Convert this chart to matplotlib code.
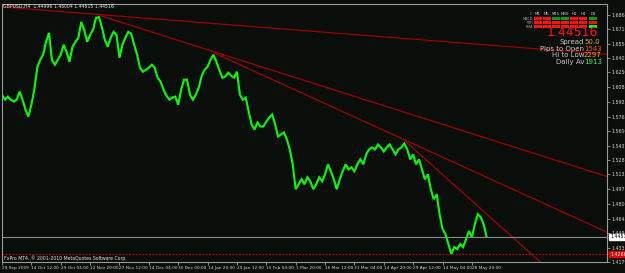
import matplotlib.pyplot as plt
from matplotlib.patches import Rectangle

# GBPUSD H4 closes, one value per 10th of a date-label step
closes = [
    1.6000, 1.5946, 1.5979, 1.5946, 1.5925, 1.5946, 1.6033, 1.5946, 1.5838, 1.5762,
    1.5892, 1.6055, 1.6293, 1.6380, 1.6434, 1.6575, 1.6673, 1.6380, 1.6326, 1.6380,
    1.6434, 1.6543, 1.6467, 1.6358, 1.6521, 1.6575, 1.6619, 1.6792, 1.6705, 1.6575,
    1.6651, 1.6705, 1.6835, 1.6846, 1.6738, 1.6597, 1.6521, 1.6619, 1.6684, 1.6651,
    1.6402, 1.6543, 1.6619, 1.6684, 1.6662, 1.6543, 1.6434, 1.6293, 1.6250, 1.6271,
    1.6293, 1.6326, 1.6293, 1.6185, 1.6141, 1.6055, 1.5990, 1.5946, 1.5968, 1.5979,
    1.5892, 1.6055, 1.6163, 1.6163, 1.6000, 1.5946, 1.6000, 1.6076, 1.6207, 1.6271,
    1.6304, 1.6380, 1.6434, 1.6358, 1.6271, 1.6185, 1.6196, 1.6239, 1.6207, 1.6185,
    1.6250, 1.6000, 1.5946, 1.5968, 1.5816, 1.5675, 1.5621, 1.5697, 1.5654, 1.5654,
    1.5708, 1.5751, 1.5784, 1.5675, 1.5545, 1.5567, 1.5589, 1.5513, 1.5404, 1.5242,
    1.4971, 1.5025, 1.5079, 1.5025, 1.5101, 1.5057, 1.4971, 1.5025, 1.5101, 1.5057,
    1.5133, 1.5242, 1.5166, 1.5079, 1.4971, 1.5079, 1.5166, 1.5242, 1.5187, 1.5209,
    1.5166, 1.5242, 1.5296, 1.5242, 1.5350, 1.5404, 1.5426, 1.5404, 1.5458, 1.5426,
    1.5382, 1.5426, 1.5458, 1.5404, 1.5350, 1.5404, 1.5426, 1.5469, 1.5404, 1.5296,
    1.5350, 1.5242, 1.5296, 1.5187, 1.5079, 1.5133, 1.4971, 1.4862, 1.4916, 1.4699,
    1.4537, 1.4483, 1.4374, 1.4266, 1.4342, 1.4320, 1.4374, 1.4342, 1.4428, 1.4515,
    1.4450, 1.4591, 1.4699, 1.4667, 1.4591, 1.4452,
]

date_labels = ["29 Sep 2009", "14 Oct 12:00", "29 Oct 04:00", "12 Nov 20:00",
               "27 Nov 12:00", "14 Dec 04:00", "30 Dec 00:00", "14 Jan 20:00",
               "29 Jan 12:00", "15 Feb 04:00", "1 Mar 20:00", "16 Mar 12:00",
               "31 Mar 04:00", "14 Apr 20:00", "29 Apr 12:00", "14 May 04:00",
               "28 May 20:00"]

price_ticks = [1.4179, 1.4331, 1.4494, 1.4645, 1.4808, 1.4971, 1.5133, 1.5285,
               1.5437, 1.5600, 1.5762, 1.5925, 1.6087, 1.6250, 1.6402, 1.6554,
               1.6716, 1.6868]
price_labels = ["1.41790", "1.43315", "1.44940", "1.46450", "1.48080", "1.49710",
                "1.51330", "1.52850", "1.54370", "1.56000", "1.57620", "1.59250",
                "1.60870", "1.62500", "1.64020", "1.65540", "1.67160", "1.68680"]

# trendlines: (start index, start price, index, price) - rays to the right
trendlines = [
    (0.0, 1.6955, 203.7, 1.6445),
    (32.7, 1.6868, 203.7, 1.5133),
    (72.1, 1.6456, 203.7, 1.4537),
    (137.4, 1.5491, 183.3, 1.4179),
]

bid = 1.44516
red_level = 1.4266

# info panel
tf_names = ["M1", "M5", "M15", "M30", "H1", "H4", "D1"]
row_names = ["MACD", "STR", "EMA"]
states = [
    [0, 0, 1, 1, 0, 0, 1],
    [0, 0, 0, 0, 0, 0, 0],
    [0, 0, 0, 0, 0, 0, 2],
]
stats = [("Spread", "50.0", "#e8a000"),
         ("Pips to Open", "1543", "#ff4a1a"),
         ("Hi to Low", "2297", "#ff9a00"),
         ("Daily Av", "1913", "#33ff33")]

BG = "#0a0e0a"
GRID = "#9a9a9a"

fig = plt.figure(figsize=(6.25, 2.73), dpi=100)
fig.patch.set_facecolor(BG)
ax = fig.add_axes([2 / 625, 11 / 273, 605 / 625, 258 / 273])
ax.set_facecolor(BG)

xmax = 206
ymin, ymax = 1.4179, 1.6987
ax.set_xlim(0, xmax)
ax.set_ylim(ymin, ymax)

ax.plot(range(len(closes)), closes, color="#00ff00", lw=1.5, solid_joinstyle="miter")

for x0, y0, x1, y1 in trendlines:
    slope = (y1 - y0) / (x1 - x0)
    ax.plot([x0, xmax], [y0, y0 + slope * (xmax - x0)], color="#9e0000", lw=0.9)

ax.axhline(bid, color="#8a8a8a", lw=0.8)
ax.axhline(red_level, color="#c00000", lw=0.8, ls=(0, (1.5, 1.5)))

for s in ax.spines.values():
    s.set_color(GRID)
    s.set_linewidth(0.8)

ax.set_xticks(range(0, 10 * len(date_labels), 10))
ax.set_xticklabels(date_labels, ha="left")
ax.tick_params(axis="x", colors=GRID, labelcolor="#d0d0d0", labelsize=3.1,
               length=2, width=0.6, pad=1)
ax.yaxis.tick_right()
ax.set_yticks(price_ticks)
ax.set_yticklabels(price_labels)
ax.tick_params(axis="y", colors=GRID, labelcolor="#d0d0d0", labelsize=3.4,
               length=2, width=0.6, pad=1)

# price boxes on the right scale
ax.text(1.005, (bid - ymin) / (ymax - ymin), "1.44516", transform=ax.transAxes,
        fontsize=3.4, color="black", va="center", ha="left", zorder=10,
        bbox=dict(boxstyle="square,pad=0.15", fc="white", ec="white"))
ax.text(1.005, (red_level - ymin) / (ymax - ymin), "1.42660", transform=ax.transAxes,
        fontsize=3.4, color="white", va="center", ha="left", zorder=10,
        bbox=dict(boxstyle="square,pad=0.15", fc="#e00000", ec="#e00000"))

fig.text(3 / 625, 1 - 6 / 273, "GBPUSD,H4  1.44996 1.45004 1.44515 1.44516",
         color="#e0e0e0", fontsize=3.3, va="center")
fig.text(4 / 625, 1 - 258 / 273, "FxPro MT4, \u00a9 2001-2010 MetaQuotes Software Corp.",
         color="#e0e0e0", fontsize=3.3, va="center")

# signal table
col_x = [538, 547, 556, 565, 574, 583, 593]
row_y = [18.5, 22.5, 26.5]
cell_colors = {0: "#ff1010", 1: "#00a000", 2: "#00ff00"}
for j, name in enumerate(tf_names):
    fig.text(col_x[j] / 625, 1 - 14 / 273, name, color="#c8c8c8", fontsize=2.8,
             ha="center", va="center")
fig.text(533 / 625, 1 - 14 / 273, "Cl", color="#808080", fontsize=2.4, ha="right", va="center")
for r, name in enumerate(row_names):
    fig.text(533 / 625, 1 - row_y[r] / 273, name, color="#a0a0a0", fontsize=2.4,
             ha="right", va="center")
    for j in range(len(tf_names)):
        fig.patches.append(Rectangle(((col_x[j] - 4) / 625, 1 - (row_y[r] + 1.3) / 273),
                                     8 / 625, 2.6 / 273, transform=fig.transFigure,
                                     color=cell_colors[states[r][j]], lw=0))

fig.text(598 / 625, 1 - 33 / 273, "1.44516", color="#ff1010", fontsize=9,
         ha="right", va="center")
for k, (lab, val, col) in enumerate(stats):
    yy = 1 - (42 + 6.7 * k) / 273
    fig.text(584 / 625, yy, lab, color="#c8c8c8", fontsize=5, ha="right", va="center")
    fig.text(584 / 625, yy, val, color=col, fontsize=5, ha="left", va="center")

fig.savefig("out.png", dpi=100, facecolor=BG)
